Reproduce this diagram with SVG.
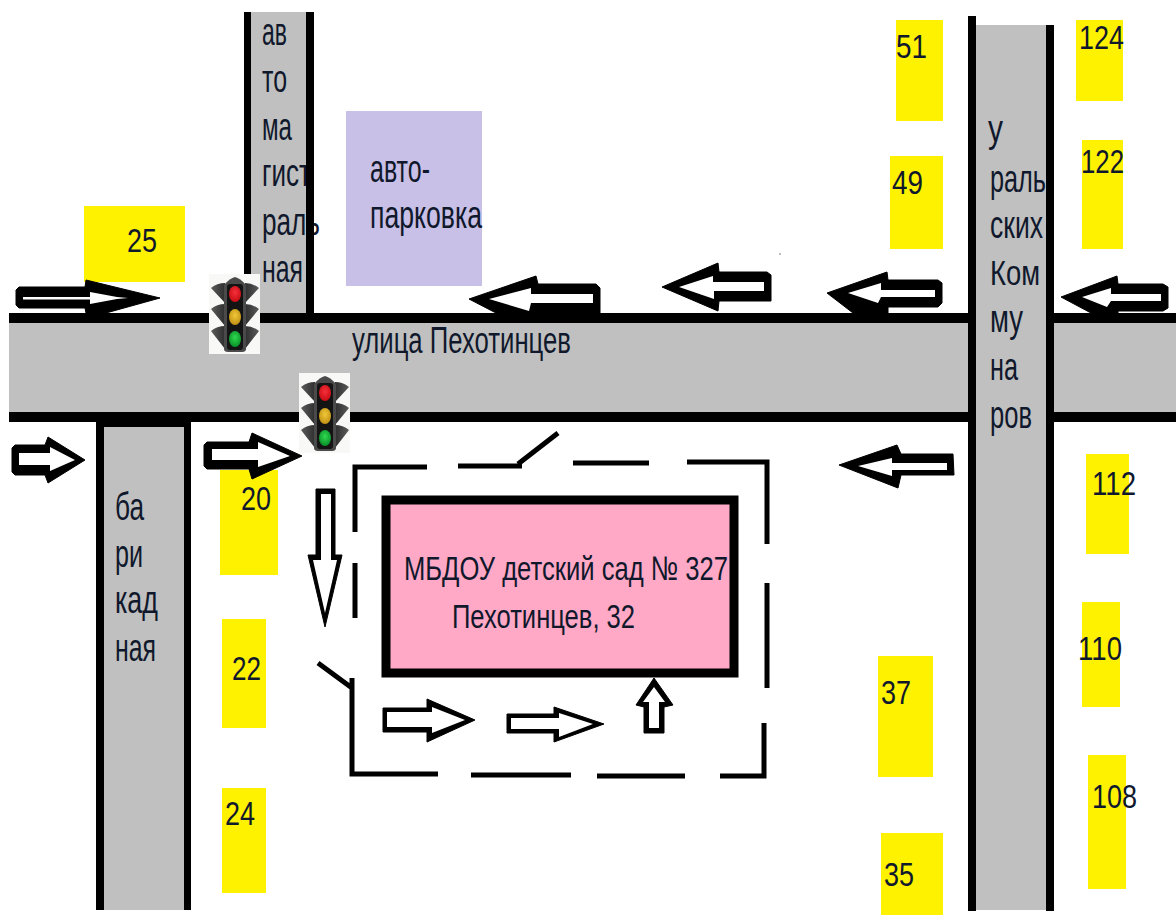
<svg xmlns="http://www.w3.org/2000/svg" width="1176" height="915" viewBox="0 0 1176 915">
<style>
.road{fill:#c0c0c0}
.edge{fill:#000}
.y{fill:#fff200}
.t{font-family:"Liberation Sans",Arial,sans-serif;font-size:34px;fill:#10182c}
.l{font-size:38px}
.o{fill:#000;stroke:#000;stroke-width:1;stroke-linejoin:round}
.i{fill:#fff}
.d{fill:none;stroke:#000;stroke-width:5}
</style>
<defs>
<radialGradient id="r" cx="0.5" cy="0.4" r="0.6"><stop offset="0" stop-color="#f5303a"/><stop offset="1" stop-color="#c80c14"/></radialGradient>
<radialGradient id="a" cx="0.5" cy="0.4" r="0.6"><stop offset="0" stop-color="#f0c838"/><stop offset="1" stop-color="#c09014"/></radialGradient>
<radialGradient id="g" cx="0.5" cy="0.4" r="0.6"><stop offset="0" stop-color="#30d850"/><stop offset="1" stop-color="#089028"/></radialGradient>
<linearGradient id="f1" x1="0" x2="1" y1="0" y2="0"><stop offset="0" stop-color="#5c5c5c"/><stop offset="1" stop-color="#2e2e2e"/></linearGradient>
<linearGradient id="f2" x1="1" x2="0" y1="0" y2="0"><stop offset="0" stop-color="#5c5c5c"/><stop offset="1" stop-color="#2e2e2e"/></linearGradient>
<g id="light">
<rect width="51" height="80" fill="#f8f8f6"/>
<path fill="url(#f1)" d="M2 14Q8 9 16 9V29ZM2 35Q8 30 16 30V52ZM2 57Q8 52 16 52V75Z"/>
<path fill="url(#f2)" d="M50 14Q44 9 36 9V29ZM50 35Q44 30 36 30V52ZM50 57Q44 52 36 52V75Z"/>
<path d="M15 11Q21 4 26 3Q31 4 37 11V75Q37 78 33 78H19Q15 78 15 75Z" fill="#4a4a4a"/>
<rect x="18" y="10" width="16" height="66" rx="3" fill="#141414"/>
<ellipse cx="26" cy="20" rx="6" ry="8" fill="url(#r)"/>
<ellipse cx="26" cy="43" rx="6" ry="8" fill="url(#a)"/>
<ellipse cx="26" cy="65" rx="6" ry="8" fill="url(#g)"/>
</g>
</defs>
<rect width="1176" height="915" fill="#fff"/>
<g id="roads">
<rect class="road" x="9" y="320" width="1167" height="95"/>
<rect class="road" x="250" y="12" width="57" height="302"/>
<rect class="road" x="104" y="422" width="80" height="488"/>
<rect class="road" x="976" y="25" width="70" height="885"/>
<rect class="edge" x="9" y="313" width="959" height="10"/>
<rect class="edge" x="1054" y="313" width="122" height="10"/>
<rect class="edge" x="9" y="412" width="959" height="10"/>
<rect class="edge" x="1054" y="412" width="122" height="10"/>
<rect class="edge" x="244" y="12" width="7" height="301"/>
<rect class="edge" x="96" y="422" width="8" height="488"/>
<rect class="edge" x="184" y="422" width="7" height="488"/>
<rect class="edge" x="104" y="422" width="80" height="5"/>
<rect class="edge" x="968" y="16" width="8" height="895"/>
<rect class="edge" x="1046" y="25" width="8" height="886"/>
</g>
<g id="houses">
<rect class="y" x="84" y="206" width="101" height="76"/>
<rect class="y" x="896" y="20" width="47" height="101"/>
<rect class="y" x="890" y="156" width="53" height="93"/>
<rect class="y" x="1076" y="20" width="47" height="81"/>
<rect class="y" x="1082" y="140" width="41" height="109"/>
<rect class="y" x="1086" y="454" width="43" height="100"/>
<rect class="y" x="1082" y="602" width="38" height="105"/>
<rect class="y" x="1088" y="755" width="38" height="134"/>
<rect class="y" x="878" y="656" width="55" height="121"/>
<rect class="y" x="881" y="833" width="62" height="82"/>
<rect class="y" x="220" y="470" width="58" height="105"/>
<rect class="y" x="222" y="619" width="44" height="109"/>
<rect class="y" x="222" y="788" width="44" height="105"/>
</g>
<g id="parking"><rect x="346" y="111" width="136" height="175" fill="#c8c0e6"/></g>
<g id="school"><rect x="386" y="500" width="348" height="173" fill="#ffa9c6" stroke="#000" stroke-width="9"/></g>
<g id="fence">
<path class="d" d="M427 467H355V532M355 563V618M458 466H522M518 464L558 433M573 463H649M687 462H767V544M767 583V688M764 723V776H720M685 776H597M571 775H471M438 774H352V678M318 663L352 688"/>
</g>
<g id="labels">
<text class="t l" x="262" y="45" textLength="25" lengthAdjust="spacingAndGlyphs">ав</text>
<text class="t l" x="262" y="92" textLength="25" lengthAdjust="spacingAndGlyphs">то</text>
<text class="t l" x="262" y="140" textLength="30" lengthAdjust="spacingAndGlyphs">ма</text>
<text class="t l" x="262" y="186" textLength="49" lengthAdjust="spacingAndGlyphs">гист</text>
<text class="t l" x="262" y="235" textLength="58" lengthAdjust="spacingAndGlyphs">раль</text>
<text class="t l" x="262" y="282" textLength="41" lengthAdjust="spacingAndGlyphs">ная</text>
<text class="t l" x="370" y="182" textLength="60" lengthAdjust="spacingAndGlyphs">авто-</text>
<text class="t l" x="370" y="228" textLength="112" lengthAdjust="spacingAndGlyphs">парковка</text>
<text class="t" style="font-size:36px" x="352" y="353" textLength="219" lengthAdjust="spacingAndGlyphs">улица Пехотинцев</text>
<text class="t" x="404" y="580" textLength="324" lengthAdjust="spacingAndGlyphs">МБДОУ детский сад № 327</text>
<text class="t" x="452" y="628" textLength="183" lengthAdjust="spacingAndGlyphs">Пехотинцев, 32</text>
<text class="t l" x="115" y="520" textLength="29" lengthAdjust="spacingAndGlyphs">ба</text>
<text class="t l" x="115" y="567" textLength="28" lengthAdjust="spacingAndGlyphs">ри</text>
<text class="t l" x="115" y="613" textLength="43" lengthAdjust="spacingAndGlyphs">кад</text>
<text class="t l" x="115" y="661" textLength="41" lengthAdjust="spacingAndGlyphs">ная</text>
<text class="t l" x="988" y="142" textLength="15" lengthAdjust="spacingAndGlyphs">у</text>
<text class="t l" x="990" y="192" textLength="56" lengthAdjust="spacingAndGlyphs">раль</text>
<text class="t l" x="990" y="238" textLength="53" lengthAdjust="spacingAndGlyphs">ских</text>
<text class="t" style="font-size:35px" x="990" y="285" textLength="50" lengthAdjust="spacingAndGlyphs">Ком</text>
<text class="t l" x="990" y="332" textLength="33" lengthAdjust="spacingAndGlyphs">му</text>
<text class="t l" x="990" y="380" textLength="28" lengthAdjust="spacingAndGlyphs">на</text>
<text class="t l" x="990" y="428" textLength="42" lengthAdjust="spacingAndGlyphs">ров</text>
<text class="t" x="127" y="252" textLength="30" lengthAdjust="spacingAndGlyphs">25</text>
<text class="t" x="896" y="58" textLength="31" lengthAdjust="spacingAndGlyphs">51</text>
<text class="t" x="892" y="194" textLength="31" lengthAdjust="spacingAndGlyphs">49</text>
<text class="t" x="1079" y="49" textLength="45" lengthAdjust="spacingAndGlyphs">124</text>
<text class="t" x="1081" y="173" textLength="43" lengthAdjust="spacingAndGlyphs">122</text>
<text class="t" x="1092" y="495" textLength="44" lengthAdjust="spacingAndGlyphs">112</text>
<text class="t" x="1078" y="660" textLength="44" lengthAdjust="spacingAndGlyphs">110</text>
<text class="t" x="1092" y="808" textLength="45" lengthAdjust="spacingAndGlyphs">108</text>
<text class="t" x="881" y="704" textLength="30" lengthAdjust="spacingAndGlyphs">37</text>
<text class="t" x="884" y="886" textLength="30" lengthAdjust="spacingAndGlyphs">35</text>
<text class="t" x="241" y="510" textLength="30" lengthAdjust="spacingAndGlyphs">20</text>
<text class="t" x="232" y="680" textLength="29" lengthAdjust="spacingAndGlyphs">22</text>
<text class="t" x="225" y="825" textLength="30" lengthAdjust="spacingAndGlyphs">24</text>
</g>
<rect class="edge" id="road-edge-right" x="306" y="12" width="8" height="301"/>
<g id="connectors">
<g><path class="o" d="M16 290L19 287H85L86 280L160 298L106 313H86L85 308H19L16 305Z"/><path class="i" d="M23 297H90V292L117 297L128 298L117 299L90 304V299.500H23Z"/></g>
<g><path class="o" d="M12 448L15 445H45L48 437L85 460L48 483L45 475H15L12 472Z"/><path class="i" d="M19 453H50V447L75 460L50 471V465H19Z"/></g>
<g><path class="o" d="M204 445L207 442H249L252 433L302 456L252 479L249 469H207L204 466Z"/><path class="i" d="M212 449H258V442L290 456L258 467V460H212Z"/></g>
<g><path class="o" d="M316 489H335V555H342L325 627L308 555H316Z"/><path class="i" d="M321 494H331V560H337L325 613L313 560H321Z"/></g>
<g><path class="o" d="M383 708H427V699L475 720L427 742V732H383Z"/><path class="i" d="M387 712H432V707L465 720L432 733V727H387Z"/></g>
<g><path class="o" d="M507 714H554V707L604 724L554 742V733H507Z"/><path class="i" d="M511 718H559V713L593 724L559 737V729H511Z"/></g>
<g><path class="o" d="M654 678L673 705L664 707V733H644V707L636 705Z"/><path class="i" d="M654 687L665 702H659V728H649V702H643Z"/></g>
<g><path class="o" d="M839 465L897 445L901 454H953L954 475H901L898 488Z"/><path class="i" d="M858 466L892 458V463H947V470H892V476Z"/></g>
<g><path class="o" d="M469 299L536 276L538 284H596L600 288V313H496Z"/><path class="i" d="M489 299L531 288V294H593V303H531L529 311Z"/></g>
<g><path class="o" d="M662 287L718 263L719 272H767L771 275V301H719L718 311Z"/><path class="i" d="M679 287L713 276V282H764V291H714V299Z"/></g>
<g><path class="o" d="M827 293L887 272L888 280H938L942 283V303L938 307H888V313H853Z"/><path class="i" d="M848 293L881 283V290H935V297H881L878 303Z"/></g>
<g><path class="o" d="M1061 297L1117 276L1118 284H1163L1168 287V308L1163 311H1118V313H1091Z"/><path class="i" d="M1082 297L1111 288V294H1161V301H1111L1107 307Z"/></g>
</g>
<g id="traffic-light-1"><use href="#light" x="209" y="274"/></g>
<g id="traffic-light-2"><use href="#light" x="299" y="373"/></g>
<rect x="779" y="253" width="2" height="2" fill="#c0c0c0"/>
</svg>
